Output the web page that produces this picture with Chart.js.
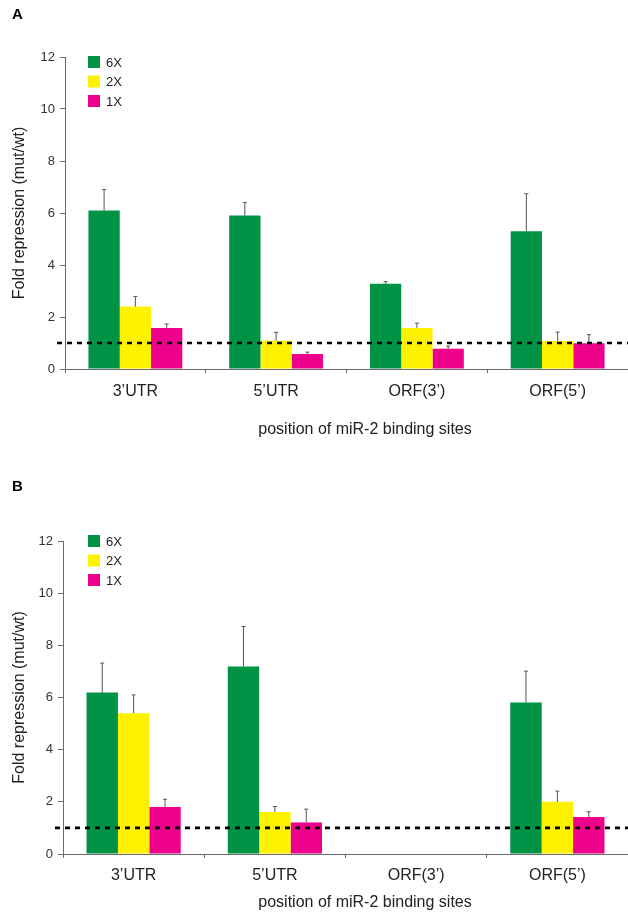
<!DOCTYPE html>
<html>
<head>
<meta charset="utf-8">
<script src="https://cdn.jsdelivr.net/npm/chart.js@4.4.1/dist/chart.umd.min.js"></script>
<style>
  body { margin: 0; background: #fff; width: 628px; height: 913px; overflow: hidden; position: relative; }
  .panel { position: absolute; left: 0; width: 628px; }
  #panelA { top: 0; height: 460px; }
  #panelB { top: 460px; height: 453px; }
</style>
</head>
<body>
<div class="panel" id="panelA"><canvas id="chartA"></canvas></div>
<div class="panel" id="panelB"><canvas id="chartB"></canvas></div>
<script>
// categories and series
const categories = ['3\u2019UTR', '5\u2019UTR', 'ORF(3\u2019)', 'ORF(5\u2019)'];
const seriesLabels = ['6X', '2X', '1X'];
const seriesColors = ['#009245', '#FFF200', '#EC008C'];
const yTicks = [0, 2, 4, 6, 8, 10, 12];
const baselineValue = 1;
const xTitle = 'position of miR-2 binding sites';
const yTitle = 'Fold repression (mut/wt)';

// panel A: means and SD
const a6X = [6.1, 5.9, 3.28, 5.3];
const a2X = [2.4, 1.09, 1.58, 1.08];
const a1X = [1.58, 0.58, 0.78, 0.99];
const a6XErr = [0.8, 0.5, 0.08, 1.44];
const a2XErr = [0.39, 0.32, 0.18, 0.34];
const a1XErr = [0.15, 0.07, 0.1, 0.33];

// panel B: means and SD (no ORF(3') data)
const b6X = [6.19, 7.19, null, 5.81];
const b2X = [5.4, 1.61, null, 2.0];
const b1X = [1.8, 1.21, null, 1.42];
const b6XErr = [1.13, 1.53, null, 1.2];
const b2XErr = [0.7, 0.21, null, 0.41];
const b1XErr = [0.3, 0.51, null, 0.2];

const FONT = '"Liberation Sans", Arial, Helvetica, sans-serif';
const AXIS_GREY = '#6a6a6a';

// error bars, dashed baseline, legend, panel letter, x title
const panelDecor = {
  id: 'panelDecor',
  afterDatasetsDraw(chart, args, opts) {
    const ctx = chart.ctx;
    const y = chart.scales.y;
    const area = chart.chartArea;

    // error bars (upper only)
    ctx.save();
    ctx.strokeStyle = '#555';
    ctx.lineWidth = 1;
    chart.data.datasets.forEach((ds, i) => {
      const meta = chart.getDatasetMeta(i);
      meta.data.forEach((bar, j) => {
        const v = ds.data[j];
        const e = ds.errors[j];
        if (v == null || e == null) return;
        const yTop = y.getPixelForValue(v + e);
        ctx.beginPath();
        ctx.moveTo(bar.x, bar.y);
        ctx.lineTo(bar.x, yTop);
        ctx.moveTo(bar.x - 2, yTop);
        ctx.lineTo(bar.x + 2, yTop);
        ctx.stroke();
      });
    });
    ctx.restore();

    // dashed line at 1
    const yb = y.getPixelForValue(baselineValue);
    ctx.save();
    ctx.strokeStyle = '#000';
    ctx.lineWidth = 2.6;
    ctx.setLineDash([5, 5]);
    ctx.beginPath();
    ctx.moveTo(area.left - 8, yb);
    ctx.lineTo(chart.width, yb);
    ctx.stroke();
    ctx.restore();

    // legend inside plot
    ctx.save();
    ctx.font = '13px ' + FONT;
    ctx.textBaseline = 'middle';
    chart.data.datasets.forEach((ds, i) => {
      const cy = area.top + opts.legendTop + i * 19.5;
      ctx.fillStyle = ds.backgroundColor;
      ctx.fillRect(opts.legendX, cy - 6, 12, 12);
      ctx.fillStyle = '#222';
      ctx.fillText(ds.label, opts.legendX + 18, cy + 1);
    });
    ctx.restore();

    // panel letter and x title
    ctx.save();
    ctx.fillStyle = '#000';
    ctx.font = 'bold 15px ' + FONT;
    ctx.textBaseline = 'middle';
    ctx.fillText(opts.letter, 12, opts.letterY);
    ctx.font = '16px ' + FONT;
    ctx.fillStyle = '#222';
    ctx.textAlign = 'center';
    ctx.fillText(xTitle, opts.titleX, opts.titleY);
    ctx.restore();
  }
};

function makePanel(canvasId, means, errs, geo) {
  const datasets = seriesLabels.map((label, i) => ({
    label,
    data: means[i],
    errors: errs[i],
    backgroundColor: seriesColors[i],
    borderWidth: 0,
    barPercentage: 1,
    categoryPercentage: 0.667
  }));

  return new Chart(document.getElementById(canvasId), {
    type: 'bar',
    data: { labels: categories, datasets },
    options: {
      responsive: true,
      maintainAspectRatio: false,
      animation: false,
      layout: { padding: { top: geo.top, right: 0, bottom: 0, left: 0 } },
      plugins: {
        legend: { display: false },
        tooltip: { enabled: false },
        panelDecor: geo.decor
      },
      scales: {
        x: {
          grid: { display: true, drawOnChartArea: false, tickLength: 4, color: AXIS_GREY, offset: true },
          border: { color: AXIS_GREY, width: 1 },
          ticks: { color: '#222', font: { family: FONT, size: 16 }, padding: geo.xPad },
          afterFit: (scale) => { scale.height = geo.xHeight; }
        },
        y: {
          min: yTicks[0],
          max: yTicks[yTicks.length - 1],
          afterBuildTicks: (scale) => { scale.ticks = yTicks.map((v) => ({ value: v })); },
          grid: { display: true, drawOnChartArea: false, tickLength: 5, color: AXIS_GREY },
          border: { color: AXIS_GREY, width: 1 },
          ticks: { color: '#333', font: { family: FONT, size: 13 }, padding: 5 },
          title: {
            display: true,
            text: yTitle,
            color: '#222',
            font: { family: FONT, size: 16 },
            padding: { top: 10, bottom: 0 }
          },
          afterFit: (scale) => { scale.width = geo.yWidth; }
        }
      }
    },
    plugins: [panelDecor]
  });
}

makePanel('chartA', [a6X, a2X, a1X], [a6XErr, a2XErr, a1XErr], {
  top: 57, xHeight: 91, yWidth: 65, xPad: 9,
  decor: { letter: 'A', letterY: 15, legendX: 88, legendTop: 5, titleX: 365, titleY: 430 }
});

makePanel('chartB', [b6X, b2X, b1X], [b6XErr, b2XErr, b1XErr], {
  top: 81, xHeight: 59, yWidth: 63, xPad: 8,
  decor: { letter: 'B', letterY: 27, legendX: 88, legendTop: 0, titleX: 365, titleY: 443 }
});
</script>
</body>
</html>
